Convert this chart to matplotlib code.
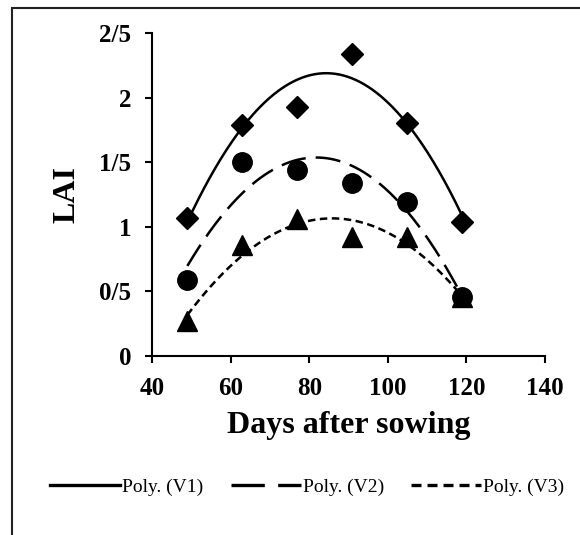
import numpy as np
import matplotlib
matplotlib.use('Agg')
import matplotlib.pyplot as plt
from matplotlib.lines import Line2D
from matplotlib.patches import Rectangle

# Data
days = [49, 63, 77, 91, 105, 119]
v1 = [1.07, 1.79, 1.93, 2.34, 1.80, 1.04]
v2 = [0.59, 1.50, 1.44, 1.34, 1.19, 0.46]
v3 = [0.27, 0.86, 1.06, 0.92, 0.92, 0.46]

y_ticks = [0, 0.5, 1, 1.5, 2, 2.5]
y_tick_labels = ['0', '0/5', '1', '1/5', '2', '2/5']
x_ticks = [40, 60, 80, 100, 120, 140]

plt.rcParams['font.family'] = ['Liberation Serif', 'DejaVu Serif']

fig = plt.figure(figsize=(5.8, 5.35), dpi=100)
ax = fig.add_axes([152 / 580, 1 - 356 / 535, (545 - 152) / 580, (356 - 33) / 535])

# frame around the figure (cropped at right/bottom)
fig.patches.append(Rectangle((12 / 580, -0.1), 1.2, 1 - 8 / 535 + 0.1, transform=fig.transFigure,
                             fill=False, edgecolor='#222222', linewidth=1.5))

series = [
    (v1, 'D', 11, '-', 'Poly. (V1)'),
    (v2, 'o', 14, (0, (10, 4)), 'Poly. (V2)'),
    (v3, '^', 14, (0, (3, 1.8)), 'Poly. (V3)'),
]

xs = np.linspace(days[0], days[-1], 200)
handles = []
for vals, mk, ms, ls, lab in series:
    ax.plot(days, vals, linestyle='none', marker=mk, markersize=ms, color='black')
    coef = np.polyfit(days, vals, 2)
    ax.plot(xs, np.polyval(coef, xs), linestyle=ls, color='black', linewidth=1.8)
    handles.append(Line2D([], [], linestyle=ls, color='black', linewidth=2.4, label=lab))

ax.set_xlim(40, 140)
ax.set_ylim(0, 2.5)
ax.set_xticks(x_ticks)
ax.set_yticks(y_ticks)
ax.set_yticklabels(y_tick_labels)
for sp in ['top', 'right']:
    ax.spines[sp].set_visible(False)
for sp in ['left', 'bottom']:
    ax.spines[sp].set_linewidth(1.5)
ax.tick_params(direction='out', length=5, width=1.5, labelsize=18)
ax.tick_params(axis='y', pad=10)
ax.tick_params(axis='x', pad=10)
for t in ax.get_xticklabels() + ax.get_yticklabels():
    t.set_fontweight('bold')

ax.set_xlabel('Days after sowing', fontsize=23, fontweight='bold', labelpad=8)
ax.set_ylabel('LAI', fontsize=23, fontweight='bold', labelpad=13)

fig.legend(handles=handles, loc='center', bbox_to_anchor=(0.53, 1 - 487 / 535), ncol=3,
           frameon=False, fontsize=14, handlelength=3.6, handletextpad=0.1, columnspacing=1.4)

plt.savefig('out.png', dpi=100)
